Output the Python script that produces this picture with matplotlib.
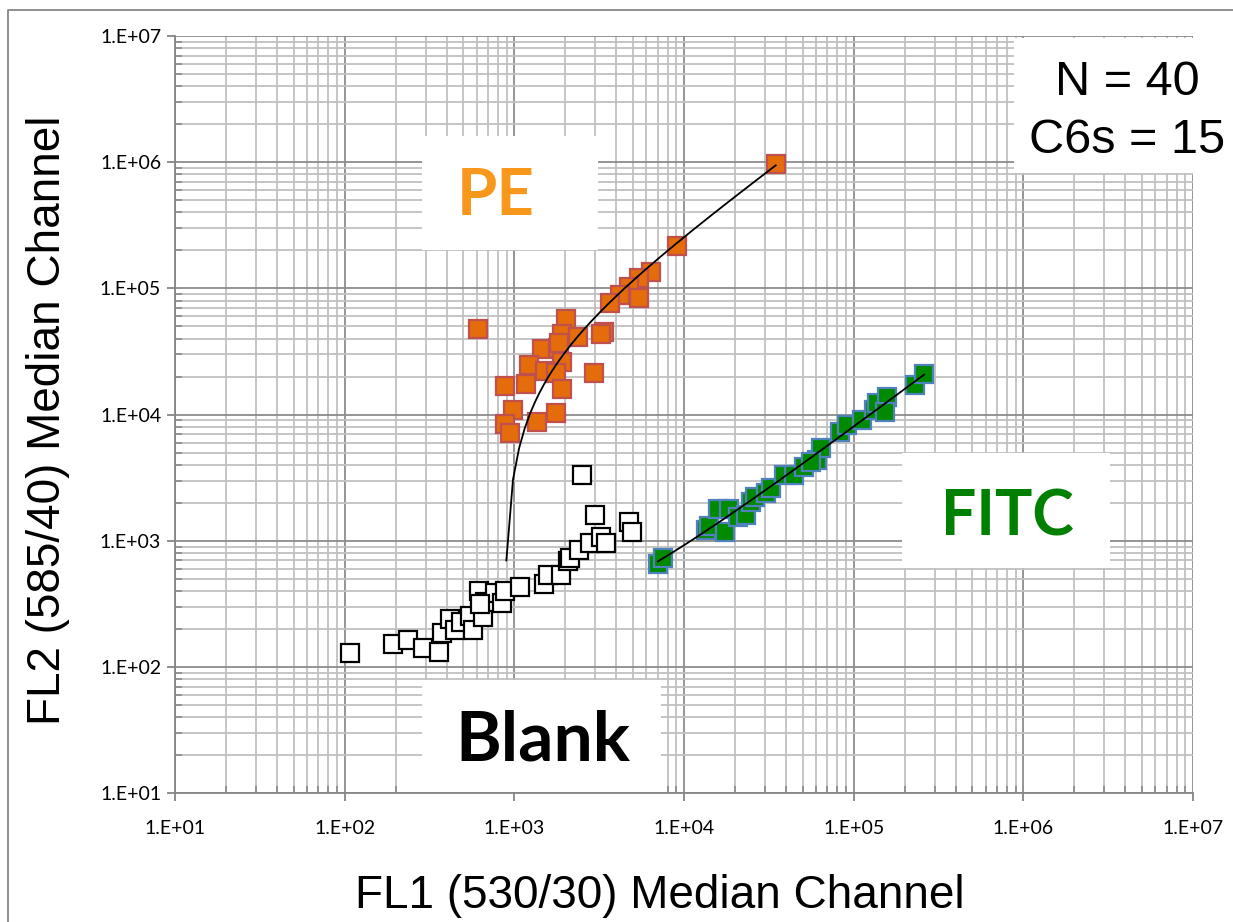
import numpy as np
import matplotlib.pyplot as plt
from matplotlib.patches import Rectangle
from matplotlib.lines import Line2D

# median channel values per bead population
blank_fl1 = [107, 193, 235, 289, 362, 375, 415, 446, 488, 548, 568, 651, 617, 675, 766,
             845, 876, 1077, 1504, 1588, 1885, 2061, 2137, 2404, 2800, 3263, 3477, 2984,
             2489, 4743, 4939, 631]
blank_fl2 = [130, 151, 164, 141, 131, 187, 239, 197, 226, 254, 197, 248, 402, 329, 388,
             320, 398, 433, 452, 536, 533, 696, 731, 846, 966, 1078, 955, 1601,
             3321, 1417, 1181, 314]

pe_fl1 = [611, 2025, 1900, 2358, 3383, 3263, 1450, 1817, 1900, 1212, 1518, 1769, 1168,
          876, 2956, 1918, 976, 1752, 1362, 885, 941, 34720, 9111, 6411, 5408, 4743,
          5408, 4183, 3654, 1842]
pe_fl2 = [47420, 56900, 43280, 41420, 45380, 43520, 32920, 33520, 26260, 24720, 22160,
          21250, 17390, 16860, 21250, 16040, 10880, 10350, 8738, 8424, 7189, 962500,
          216800, 135600, 120200, 103100, 84400, 88640, 76200, 37120]

fitc_fl1 = [7018, 7510, 13480, 14110, 17430, 15940, 18490, 20690, 23140, 24760, 26140,
            30330, 32440, 38890, 44510, 50950, 60410, 63770, 83570, 91480, 112000,
            131200, 137200, 157000, 153500, 230200, 259900, 55700]
fitc_fl2 = [655, 727, 1218, 1310, 1181, 1777, 1777, 1552, 1601, 2041, 2236, 2379, 2606,
            3321, 3321, 3866, 4368, 5408, 7321, 8273, 9062, 10880, 12290, 13860, 10540,
            17160, 20980, 4235]

decades = [1e1, 1e2, 1e3, 1e4, 1e5, 1e6, 1e7]
decade_labels = ['1.E+01', '1.E+02', '1.E+03', '1.E+04', '1.E+05', '1.E+06', '1.E+07']

W, H = 1233, 922
fig = plt.figure(figsize=(W / 100, H / 100), dpi=100)
ax = fig.add_axes([175 / W, 1 - 793.3 / H, (1193 - 175) / W, (793.3 - 36) / H])


def px_rect(x0, y0, x1, y1, **kw):
    # rectangle given in pixel coords from the top-left corner of the figure
    return Rectangle((x0 / W, 1 - y1 / H), (x1 - x0) / W, (y1 - y0) / H,
                     transform=fig.transFigure, **kw)


# linear trendlines (as a spreadsheet draws them), shown on log axes
def trend(xs, ys, floor=None):
    a, b = np.polyfit(xs, ys, 1)
    x0 = min(xs)
    if floor is not None:
        x0 = max(x0, (floor - b) / a)
    xx = np.linspace(x0, max(xs), 400)
    return xx, a * xx + b


ax.set_xscale('log')
ax.set_yscale('log')
ax.set_xlim(1e1, 1e7)
ax.set_ylim(1e1, 1e7)

ax.grid(which='major', color='#8c8c8c', lw=1.3)
ax.grid(which='minor', color='#c0c0c0', lw=1.3)
ax.set_axisbelow(True)

for side in ['top', 'right']:
    ax.spines[side].set_visible(False)
for side in ['left', 'bottom']:
    ax.spines[side].set_color('#868686')
    ax.spines[side].set_linewidth(1.3)

ax.set_xticks(decades)
ax.set_xticklabels(decade_labels)
ax.set_yticks(decades)
ax.set_yticklabels(decade_labels)
ax.tick_params(which='major', direction='out', length=6, width=1.3, color='#868686',
               labelsize=14, pad=13)
ax.tick_params(axis='y', which='major', pad=4)
ax.tick_params(which='minor', direction='in', length=5, width=1.1, color='#868686')
for lab in ax.get_xticklabels() + ax.get_yticklabels():
    lab.set_family('Lato')

# white label boxes over the grid
ax.add_patch(px_rect(422, 136, 598, 250, facecolor='white', edgecolor='none', zorder=1, clip_on=False))
ax.add_patch(px_rect(422, 680, 661, 792, facecolor='white', edgecolor='none', zorder=1, clip_on=False))
ax.add_patch(px_rect(902, 453, 1110, 568, facecolor='white', edgecolor='none', zorder=1, clip_on=False))
ax.add_patch(px_rect(1014, 38, 1240, 173, facecolor='white', edgecolor='none', zorder=1, clip_on=False))

ax.plot(blank_fl1, blank_fl2, 's', ms=12.5, mfc='white', mec='black', mew=1.6, zorder=3)
ax.plot(pe_fl1, pe_fl2, 's', ms=12.5, mfc='#E46C0A', mec='#C0504D', mew=1.6, zorder=3)
ax.plot(fitc_fl1, fitc_fl2, 's', ms=12.5, mfc='#008A00', mec='#4F81BD', mew=1.6, zorder=3)

tx, ty = trend(pe_fl1, pe_fl2, floor=700)
ax.plot(tx, ty, color='black', lw=1.3, zorder=4)
tx, ty = trend(fitc_fl1, fitc_fl2)
ax.plot(tx, ty, color='black', lw=1.3, zorder=4)

# chart frame
fig.add_artist(Line2D([8 / W, 8 / W, 1], [0, 1 - 10 / H, 1 - 10 / H],
                      transform=fig.transFigure, color='#868686', lw=1.3))
fig.add_artist(px_rect(0, 63, 85, 760, facecolor='white', edgecolor='none'))

fig.text(660 / W, 1 - 896 / H, 'FL1 (530/30) Median Channel', ha='center', va='center',
         family='Liberation Sans', fontsize=33)
fig.text(48 / W, 1 - 420 / H, 'FL2 (585/40) Median Channel', ha='center', va='center',
         rotation=90, family='Liberation Sans', fontsize=33)

fig.text(1127 / W, 1 - 95 / H, 'N = 40', ha='center', va='baseline',
         family='Liberation Sans', fontsize=35)
fig.text(1127 / W, 1 - 153 / H, 'C6s = 15', ha='center', va='baseline',
         family='Liberation Sans', fontsize=35)

fig.text(496 / W, 1 - 215 / H, 'PE', ha='center', va='baseline', family='Lato',
         weight='bold', fontsize=47, color='#F7981D')
fig.text(543 / W, 1 - 760 / H, 'Blank', ha='center', va='baseline', family='Lato',
         weight='bold', fontsize=50, color='black')
fig.text(1007 / W, 1 - 535 / H, 'FITC', ha='center', va='baseline', family='Lato',
         weight='bold', fontsize=45, color='#008000')

fig.savefig('out.png', dpi=100)
